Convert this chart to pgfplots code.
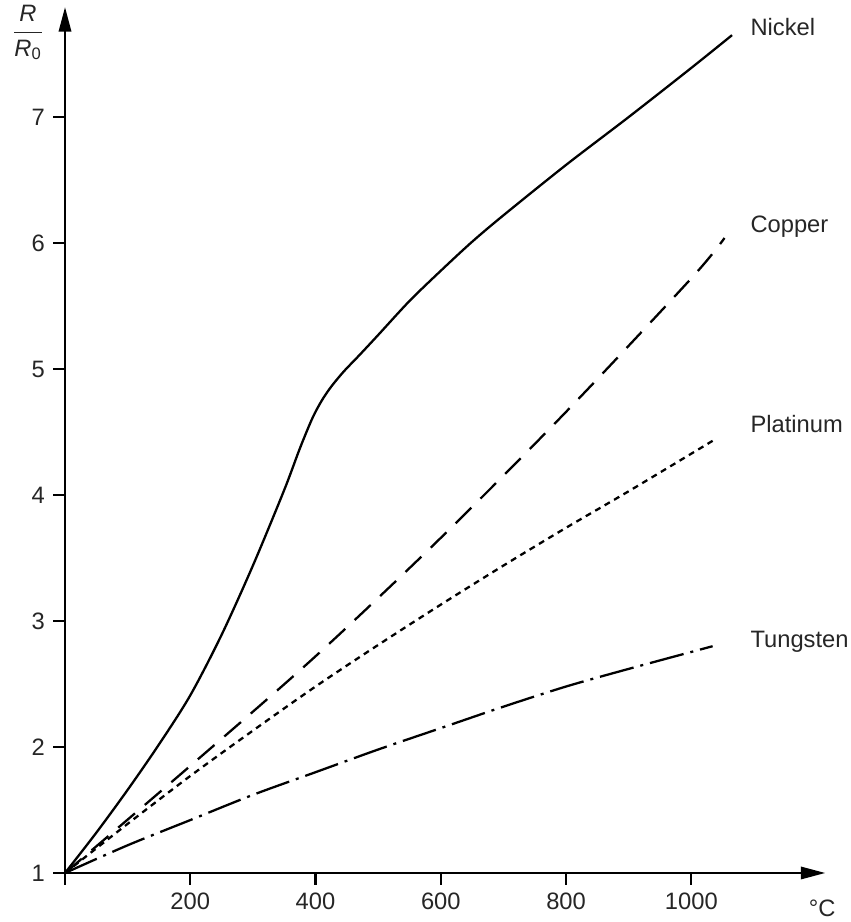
\documentclass[border=0pt]{standalone}
\usepackage{amsmath}
\usepackage{fontspec}
\setmainfont{Liberation Sans}
\usepackage{pgfplots}
\pgfplotsset{compat=1.18}
\usetikzlibrary{arrows.meta}

% R/R0 against temperature
\pgfplotstableread{
T R
0 1
50 1.32
100 1.66
150 2.02
200 2.41
250 2.89
300 3.44
350 4.04
375 4.37
395 4.61
410 4.75
425 4.86
445 4.98
470 5.11
500 5.27
550 5.54
600 5.78
650 6.01
700 6.22
800 6.62
900 7.00
1000 7.39
1065 7.65
}\nickel
\pgfplotstableread{
T R
0 1
200 1.85
400 2.72
600 3.66
800 4.66
1000 5.72
1053 6.04
}\copper
\pgfplotstableread{
T R
0 1
100 1.39
200 1.77
300 2.13
400 2.48
500 2.81
600 3.13
700 3.44
800 3.74
900 4.03
1034 4.43
}\platinum
\pgfplotstableread{
T R
0 1
100 1.22
200 1.42
300 1.62
400 1.80
500 1.98
600 2.15
700 2.32
800 2.48
900 2.62
1034 2.80
}\tungsten

\begin{document}
\fontsize{13.5}{16}\selectfont
\begin{tikzpicture}
\begin{axis}[
    x=0.01252cm, y=2.52cm,
    xmin=0, xmax=1214, ymin=1, ymax=7.873,
    axis lines=left,
    axis line style={draw=none},
    clip=false,
    tick align=outside,
    major tick length=0.24cm,
    tick style={line width=1.3pt, black},
    xtick={200,400,600,800,1000},
    ytick={1,2,3,4,5,6,7},
    /pgf/number format/1000 sep={},
    /pgf/number format/assume math mode=true,
    ticklabel style={font=\fontsize{13.5}{16}\selectfont, text=black!85},
    every axis plot/.append style={line width=1.3pt, black, smooth, no markers},
]
\addplot[solid] table {\nickel};
\addplot[dash pattern=on 12.5pt off 7.4pt] table {\copper};
\addplot[dash pattern=on 3.4pt off 2.8pt] table {\platinum};
\addplot[dash pattern=on 19.8pt off 4pt on 1.7pt off 4pt] table {\tungsten};

\draw[line width=1.4pt, -{Triangle[length=14pt,width=7pt]}] (axis cs:-19,1) -- (axis cs:1214,1);
\draw[line width=1.4pt, -{Triangle[length=14pt,width=7pt]}] (axis cs:0,0.905) -- (axis cs:0,7.873);

\begin{scope}[every node/.style={inner sep=0pt, text=black!85}]
\node[anchor=base west] at (axis cs:1094,7.65) {Nickel};
\node[anchor=base west] at (axis cs:1094,6.08) {Copper};
\node[anchor=base west] at (axis cs:1094,4.50) {Platinum};
\node[anchor=base west] at (axis cs:1094,2.79) {Tungsten};
\node[anchor=base west] at (axis cs:1187,0.651) {°C};
\node at (axis cs:-59,7.67) {$\dfrac{\textit{R}}{\textit{R}_{\textup{0}}}$};
\end{scope}

\coordinate (bl) at (axis cs:-103.8,0.611);
\coordinate (tr) at (axis cs:1254,7.929);
\end{axis}
\pgfresetboundingbox
\useasboundingbox (bl) rectangle (tr);
\end{tikzpicture}
\end{document}
